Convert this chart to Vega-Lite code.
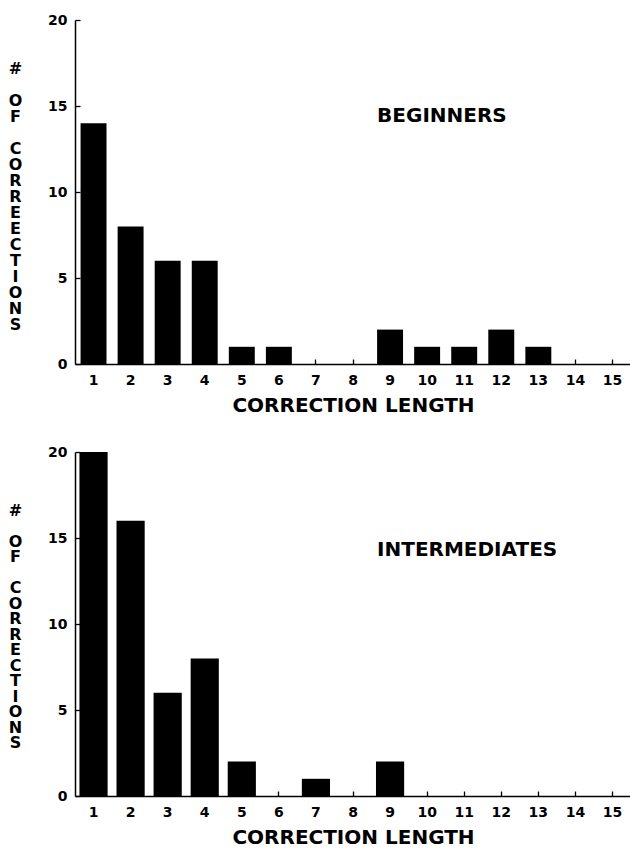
{
  "$schema": "https://vega.github.io/schema/vega-lite/v6.json",
  "padding": {"left": 8, "top": 13, "right": 0, "bottom": 0},
  "spacing": 30,
  "datasets": {
    "beginners": [
      {"length": 1, "count": 14}, {"length": 2, "count": 8}, {"length": 3, "count": 6},
      {"length": 4, "count": 6}, {"length": 5, "count": 1}, {"length": 6, "count": 1},
      {"length": 7, "count": 0}, {"length": 8, "count": 0}, {"length": 9, "count": 2},
      {"length": 10, "count": 1}, {"length": 11, "count": 1}, {"length": 12, "count": 2},
      {"length": 13, "count": 1}, {"length": 14, "count": 0}, {"length": 15, "count": 0}
    ],
    "intermediates": [
      {"length": 1, "count": 20}, {"length": 2, "count": 16}, {"length": 3, "count": 6},
      {"length": 4, "count": 8}, {"length": 5, "count": 2}, {"length": 6, "count": 0},
      {"length": 7, "count": 1}, {"length": 8, "count": 0}, {"length": 9, "count": 2},
      {"length": 10, "count": 0}, {"length": 11, "count": 0}, {"length": 12, "count": 0},
      {"length": 13, "count": 0}, {"length": 14, "count": 0}, {"length": 15, "count": 0}
    ]
  },
  "config": {
    "view": {"stroke": null},
    "font": "DejaVu Sans",
    "axis": {
      "grid": false,
      "domainColor": "#000000",
      "domainWidth": 1.5,
      "tickColor": "#000000",
      "tickWidth": 1.3,
      "tickSize": -5,
      "labelFont": "DejaVu Sans",
      "labelFontWeight": "bold",
      "labelFontSize": 14,
      "labelColor": "#000000",
      "titleFont": "DejaVu Sans",
      "titleFontWeight": "bold",
      "titleColor": "#000000"
    }
  },
  "vconcat": [
    {
      "width": 556,
      "height": 344,
      "layer": [
        {
          "data": {"name": "beginners"},
          "mark": {"type": "bar", "color": "#000000"},
          "encoding": {
            "x": {
              "field": "length", "type": "ordinal", "sort": "ascending",
              "scale": {"paddingInner": 0.3, "paddingOuter": 0.15},
              "axis": {"labelAngle": 0, "labelPadding": 14, "title": "CORRECTION LENGTH", "titleFontSize": 20, "titlePadding": 8}
            },
            "y": {
              "field": "count", "type": "quantitative",
              "scale": {"domain": [0, 20]},
              "axis": {
                "values": [0, 5, 10, 15, 20],
                "labelPadding": 13,
                "title": ["#", "\u2800", "O", "F", "\u2800", "C", "O", "R", "R", "E", "E", "C", "T", "I", "O", "N", "S"],
                "titleAngle": 0, "titleAlign": "center", "titleBaseline": "middle",
                "titleFontSize": 16, "titleLineHeight": 16,
                "titleX": -60, "titleY": 48
              }
            }
          }
        },
        {
          "data": {"values": [{"label": "BEGINNERS", "length": 9, "count": 14.4}]},
          "mark": {"type": "text", "align": "left", "baseline": "middle", "dx": -13, "fontSize": 20, "fontWeight": "bold", "font": "DejaVu Sans", "color": "#000000"},
          "encoding": {
            "x": {"field": "length", "type": "ordinal"},
            "y": {"field": "count", "type": "quantitative"},
            "text": {"field": "label"}
          }
        }
      ]
    },
    {
      "width": 556,
      "height": 344,
      "layer": [
        {
          "data": {"name": "intermediates"},
          "mark": {"type": "bar", "color": "#000000"},
          "encoding": {
            "x": {
              "field": "length", "type": "ordinal", "sort": "ascending",
              "scale": {"paddingInner": 0.24, "paddingOuter": 0.12},
              "axis": {"labelAngle": 0, "labelPadding": 14, "title": "CORRECTION LENGTH", "titleFontSize": 20, "titlePadding": 8}
            },
            "y": {
              "field": "count", "type": "quantitative",
              "scale": {"domain": [0, 20]},
              "axis": {
                "values": [0, 5, 10, 15, 20],
                "labelPadding": 13,
                "title": ["#", "\u2800", "O", "F", "\u2800", "C", "O", "R", "R", "E", "C", "T", "I", "O", "N", "S"],
                "titleAngle": 0, "titleAlign": "center", "titleBaseline": "middle",
                "titleFontSize": 16, "titleLineHeight": 15.5,
                "titleX": -60, "titleY": 58
              }
            }
          }
        },
        {
          "data": {"values": [{"label": "INTERMEDIATES", "length": 9, "count": 14.3}]},
          "mark": {"type": "text", "align": "left", "baseline": "middle", "dx": -13, "fontSize": 20, "fontWeight": "bold", "font": "DejaVu Sans", "color": "#000000"},
          "encoding": {
            "x": {"field": "length", "type": "ordinal"},
            "y": {"field": "count", "type": "quantitative"},
            "text": {"field": "label"}
          }
        }
      ]
    }
  ]
}
